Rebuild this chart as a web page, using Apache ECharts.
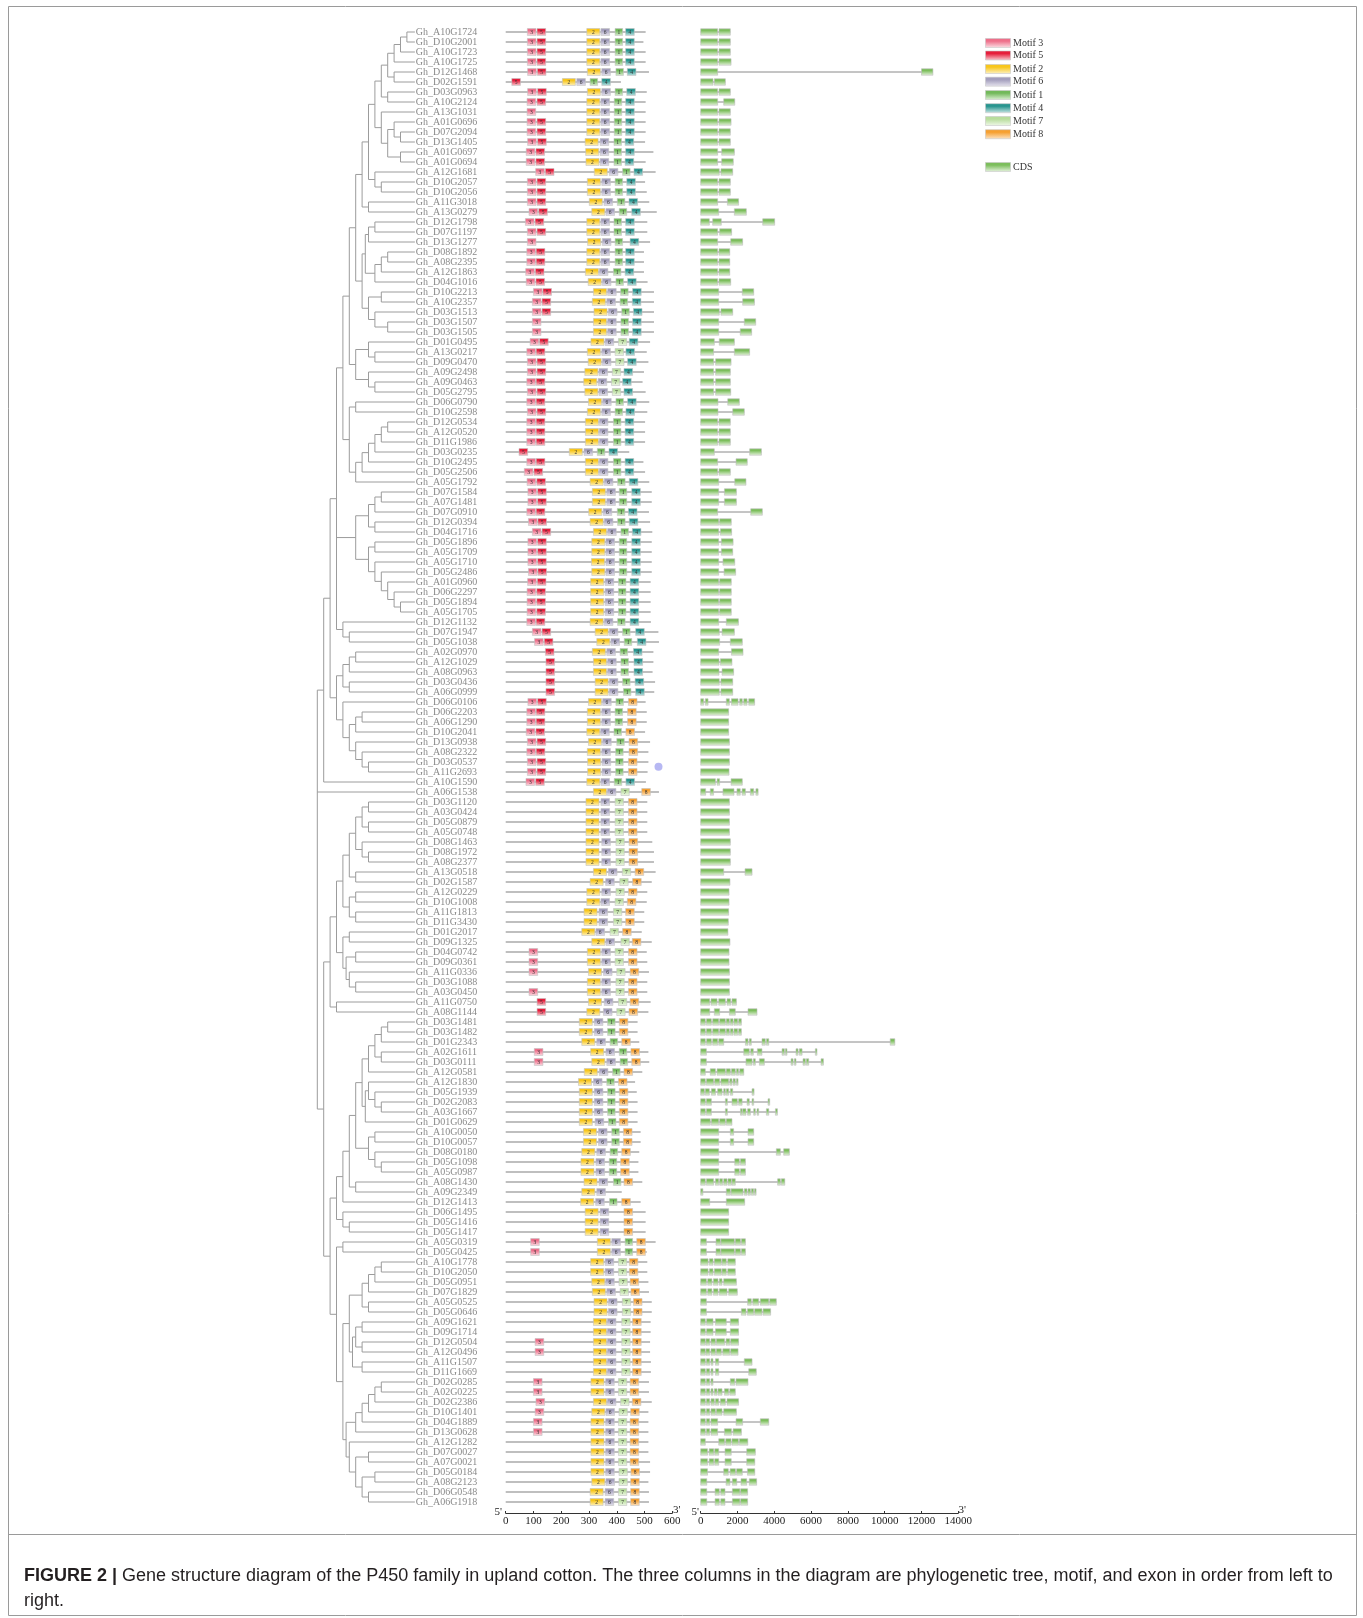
<!DOCTYPE html>
<html><head><meta charset="utf-8">
<script src="https://cdn.jsdelivr.net/npm/echarts@6/dist/echarts.min.js"></script>
<style>html,body{margin:0;padding:0;background:#fff}#c{width:1363px;height:1618px}</style>
</head><body><div id="c"></div>
<script>
// ---------------- DATA ----------------
const genes = ["Gh_A10G1724","Gh_D10G2001","Gh_A10G1723","Gh_A10G1725","Gh_D12G1468","Gh_D02G1591","Gh_D03G0963","Gh_A10G2124","Gh_A13G1031","Gh_A01G0696",
"Gh_D07G2094","Gh_D13G1405","Gh_A01G0697","Gh_A01G0694","Gh_A12G1681","Gh_D10G2057","Gh_D10G2056","Gh_A11G3018","Gh_A13G0279","Gh_D12G1798",
"Gh_D07G1197","Gh_D13G1277","Gh_D08G1892","Gh_A08G2395","Gh_A12G1863","Gh_D04G1016","Gh_D10G2213","Gh_A10G2357","Gh_D03G1513","Gh_D03G1507",
"Gh_D03G1505","Gh_D01G0495","Gh_A13G0217","Gh_D09G0470","Gh_A09G2498","Gh_A09G0463","Gh_D05G2795","Gh_D06G0790","Gh_D10G2598","Gh_D12G0534",
"Gh_A12G0520","Gh_D11G1986","Gh_D03G0235","Gh_D10G2495","Gh_D05G2506","Gh_A05G1792","Gh_D07G1584","Gh_A07G1481","Gh_D07G0910","Gh_D12G0394",
"Gh_D04G1716","Gh_D05G1896","Gh_A05G1709","Gh_A05G1710","Gh_D05G2486","Gh_A01G0960","Gh_D06G2297","Gh_D05G1894","Gh_A05G1705","Gh_D12G1132",
"Gh_D07G1947","Gh_D05G1038","Gh_A02G0970","Gh_A12G1029","Gh_A08G0963","Gh_D03G0436","Gh_A06G0999","Gh_D06G0106","Gh_D06G2203","Gh_A06G1290",
"Gh_D10G2041","Gh_D13G0938","Gh_A08G2322","Gh_D03G0537","Gh_A11G2693","Gh_A10G1590","Gh_A06G1538","Gh_D03G1120","Gh_A03G0424","Gh_D05G0879",
"Gh_A05G0748","Gh_D08G1463","Gh_D08G1972","Gh_A08G2377","Gh_A13G0518","Gh_D02G1587","Gh_A12G0229","Gh_D10G1008","Gh_A11G1813","Gh_D11G3430",
"Gh_D01G2017","Gh_D09G1325","Gh_D04G0742","Gh_D09G0361","Gh_A11G0336","Gh_D03G1088","Gh_A03G0450","Gh_A11G0750","Gh_A08G1144","Gh_D03G1481",
"Gh_D03G1482","Gh_D01G2343","Gh_A02G1611","Gh_D03G0111","Gh_A12G0581","Gh_A12G1830","Gh_D05G1939","Gh_D02G2083","Gh_A03G1667","Gh_D01G0629",
"Gh_A10G0050","Gh_D10G0057","Gh_D08G0180","Gh_D05G1098","Gh_A05G0987","Gh_A08G1430","Gh_A09G2349","Gh_D12G1413","Gh_D06G1495","Gh_D05G1416",
"Gh_D05G1417","Gh_A05G0319","Gh_D05G0425","Gh_A10G1778","Gh_D10G2050","Gh_D05G0951","Gh_D07G1829","Gh_A05G0525","Gh_D05G0646","Gh_A09G1621",
"Gh_D09G1714","Gh_D12G0504","Gh_A12G0496","Gh_A11G1507","Gh_D11G1669","Gh_D02G0285","Gh_A02G0225","Gh_D02G2386","Gh_D10G1401","Gh_D04G1889",
"Gh_D13G0628","Gh_A12G1282","Gh_D07G0027","Gh_A07G0021","Gh_D05G0184","Gh_A08G2123","Gh_D06G0548","Gh_A06G1918"];

// protein length (aa) per gene
const proteinLength = [504,496,504,504,516,415,508,504,504,504, 504,502,532,504,540,502,508,517,544,510,
510,520,498,498,498,511,534,534,534,534, 534,520,508,514,498,493,504,517,510,502,
502,502,445,496,502,517,526,526,516,520, 528,526,526,526,526,522,522,522,522,523,
550,552,532,532,529,538,535,504,508,508, 502,520,514,514,511,505,552,510,510,510,
510,528,534,534,540,526,510,508,499,499, 490,526,508,510,516,510,510,522,514,475,
475,481,514,517,492,466,472,475,475,475, 486,486,481,478,478,492,418,486,504,504,
504,540,508,510,510,514,516,526,526,522, 522,520,520,523,523,516,516,526,514,514,
514,514,514,520,520,514,516,516];

// motif id : start (aa)
const motifSites = [
"3:78 5:113 2:292 6:343 1:394 4:432","3:78 5:113 2:292 6:343 1:394 4:432","3:78 5:113 2:292 6:343 1:394 4:432","3:78 5:113 2:292 6:343 1:394 4:432",
"3:79 5:114 2:294 6:346 1:397 4:438","5:22 2:204 6:256 1:304 4:346","3:79 5:115 2:294 6:346 1:394 4:436","3:77 5:113 2:292 6:343 1:391 4:432",
"3:77 2:292 6:343 1:391 4:432","3:77 5:113 2:292 6:343 1:391 4:432","3:77 5:113 2:292 6:343 1:391 4:432","3:79 5:115 2:286 6:340 1:390 4:430",
"3:74 5:109 2:288 6:340 1:390 4:432","3:74 5:109 2:289 6:340 1:390 4:430","3:108 5:143 2:319 6:373 1:421 4:462","3:78 5:113 2:294 6:346 1:394 4:436",
"3:78 5:113 2:294 6:346 1:394 4:436","3:78 5:113 2:301 6:354 1:402 4:444","3:84 5:119 2:310 6:361 1:409 4:454","3:71 5:106 2:292 6:343 1:390 4:432",
"3:78 5:113 2:292 6:343 1:390 4:432","3:78 2:295 6:348 1:394 4:448","3:76 5:110 2:292 6:343 1:394 4:432","3:76 5:110 2:292 6:343 1:394 4:432",
"3:72 5:107 2:287 6:337 1:388 4:430","3:74 5:109 2:297 6:348 1:397 4:439","3:100 5:134 2:316 6:367 1:414 4:457","3:96 5:131 2:312 6:364 1:412 4:456",
"3:96 5:131 2:318 6:370 1:418 4:460","3:96 2:316 6:367 1:415 4:457","3:96 2:316 6:367 1:415 4:457","3:88 5:122 2:307 6:358 7:406 4:445",
"3:76 5:110 2:294 6:346 7:394 4:433","3:78 5:113 2:297 6:348 7:396 4:439","3:78 5:113 2:285 6:336 7:384 4:426","3:76 5:110 2:281 6:333 7:381 4:421",
"3:78 5:113 2:285 6:336 7:384 4:426","3:76 5:110 2:298 6:349 1:397 4:439","3:78 5:113 2:294 6:346 1:394 4:433","3:76 5:110 2:287 6:337 1:388 4:430",
"3:76 5:110 2:287 6:337 1:388 4:430","3:76 5:110 2:287 6:337 1:388 4:430","5:48 2:229 6:282 1:330 4:372","3:76 5:110 2:287 6:337 1:388 4:430",
"3:67 5:102 2:287 6:337 1:388 4:430","3:77 5:112 2:304 6:355 1:403 4:445","3:80 5:115 2:312 6:364 1:409 4:454","3:80 5:115 2:312 6:364 1:409 4:454",
"3:76 5:110 2:299 6:351 1:402 4:442","3:82 5:116 2:304 6:355 1:403 4:445","3:96 5:131 2:316 6:367 1:415 4:456","3:80 5:115 2:310 6:361 1:409 4:454",
"3:80 5:115 2:310 6:361 1:409 4:454","3:80 5:115 2:309 6:361 1:409 4:454","3:82 5:116 2:310 6:361 1:409 4:454","3:79 5:114 2:306 6:358 1:406 4:448",
"3:77 5:112 2:306 6:358 1:406 4:448","3:77 5:112 2:306 6:358 1:406 4:448","3:77 5:112 2:306 6:358 1:406 4:448","3:76 5:110 2:304 6:355 1:403 4:448",
"3:96 5:131 2:322 6:373 1:421 4:468","3:104 5:139 2:328 6:379 1:427 4:474","5:143 2:312 6:364 1:412 4:460","5:145 2:316 6:367 1:415 4:462",
"5:145 2:316 6:367 1:415 4:462","5:145 2:322 6:373 1:421 4:466","5:145 2:322 6:373 1:424 4:468","3:80 5:115 2:298 6:349 1:397 8:442",
"3:76 5:110 2:294 6:346 1:394 8:439","3:76 5:110 2:294 6:346 1:394 8:439","3:74 5:109 2:292 6:342 1:390 8:433","3:78 5:113 2:298 6:349 1:400 8:444",
"3:76 5:110 2:294 6:346 1:396 8:444","3:78 5:113 2:295 6:347 1:396 8:442","3:78 5:113 2:295 6:347 1:396 8:442","3:73 5:108 2:292 6:343 1:391 4:433",
"2:316 6:366 7:415 8:490","2:289 6:343 7:394 8:442","2:289 6:343 7:394 8:442","2:289 6:343 7:394 8:442",
"2:289 6:343 7:394 8:442","2:289 6:346 7:397 8:444","2:289 6:346 7:397 8:444","2:289 6:346 7:397 8:444",
"2:316 6:370 7:420 8:466","2:304 6:360 7:411 8:457","2:292 6:346 7:397 8:442","2:292 6:343 7:394 8:438",
"2:282 6:336 7:388 8:432","2:282 6:336 7:388 8:432","2:274 6:325 7:376 8:421","2:310 6:361 7:415 8:456",
"3:84 2:294 6:346 7:394 8:442","3:84 2:294 6:346 7:394 8:442","3:84 2:298 6:352 7:400 8:448","2:294 6:346 7:397 8:442",
"3:84 2:294 6:346 7:397 8:442","5:113 2:298 6:355 7:406 8:448","5:113 2:292 6:352 7:400 8:444","2:265 6:319 1:367 8:409",
"2:265 6:319 1:367 8:409","2:274 6:328 1:376 8:418","3:103 2:306 6:361 1:409 8:451","3:103 2:310 6:364 1:412 8:454",
"2:283 6:337 1:385 8:426","2:262 6:316 1:364 8:406","2:265 6:319 1:367 8:409","2:265 6:319 1:367 8:409",
"2:265 6:319 1:367 8:409","2:265 6:322 1:370 8:409","2:280 6:334 1:382 8:424","2:280 6:334 1:382 8:424",
"2:274 6:328 1:376 8:418","2:271 6:325 1:373 8:414","2:271 6:325 1:373 8:414","2:282 6:336 1:388 8:426",
"2:274 6:328","2:270 6:324 1:374 8:418","2:286 6:340 8:426","2:286 6:340 8:426",
"2:286 6:340 8:426","3:90 2:330 6:382 1:430 8:472","3:90 2:330 6:382 1:430 8:472","2:306 6:358 7:406 8:445",
"2:306 6:358 7:406 8:445","2:310 6:360 7:408 8:448","2:312 6:364 7:412 8:451","2:318 6:370 7:420 8:460",
"2:318 6:370 7:420 8:460","2:316 6:366 7:418 8:457","2:316 6:366 7:418 8:457","3:106 2:316 6:366 7:418 8:457",
"3:106 2:316 6:366 7:418 8:457","2:316 6:366 7:418 8:457","2:316 6:366 7:418 8:457","3:100 2:307 6:360 7:406 8:448",
"3:100 2:307 6:360 7:406 8:448","3:109 2:316 6:366 7:414 8:456","3:106 2:310 6:361 7:408 8:450","3:100 2:307 6:360 7:406 8:448",
"3:100 2:307 6:360 7:406 8:448","2:307 6:360 7:406 8:448","2:307 6:360 7:406 8:448","2:307 6:360 7:406 8:448",
"2:307 6:360 7:408 8:451","2:310 6:361 7:408 8:450","2:304 6:358 7:406 8:450","2:304 6:358 7:406 8:450"];

// motif length (aa)
const motifLength = {3:31, 5:31, 2:47, 6:31, 1:27, 4:31, 7:30, 8:31};

// CDS segments (bp) per gene
const exons = [
"0-920 995-1610","0-920 995-1610","0-920 995-1610","0-920 995-1650","0-920 12000-12620","0-670 740-1340","0-920 995-1610","0-920 1250-1850","0-920 995-1610","0-920 995-1650",
"0-920 995-1610","0-920 995-1610","0-920 1140-1830","0-920 1140-1770","0-1010 1100-1740","0-920 995-1610","0-920 995-1610","0-920 1450-2060","0-980 1830-2480","0-470 650-1120 3370-4020",
"0-920 1030-1680","0-920 1630-2280","0-920 995-1580","0-920 995-1580","0-920 995-1580","0-920 995-1630","0-980 2260-2880","0-980 2280-2920","0-1010 1100-1740","0-980 2370-2990",
"0-980 2150-2770","0-740 1010-1830","0-700 1830-2660","0-700 810-1650","0-700 810-1610","0-700 810-1610","0-700 810-1630","0-940 1470-2100","0-940 1740-2370","0-920 995-1610",
"0-920 995-1610","0-920 995-1610","0-740 2660-3300","0-920 1920-2530","0-920 995-1610","0-980 1850-2460","0-980 1290-1940","0-980 1290-1940","0-920 2720-3350","0-980 1030-1660",
"0-980 1070-1680","0-980 1120-1760","0-980 1120-1740","0-980 1210-1850","0-980 1270-1900","0-980 1030-1660","0-980 1030-1660","0-980 1030-1660","0-980 1030-1660","0-980 1390-2050",
"0-1010 1160-1830","0-1030 1610-2260","0-980 1670-2300","0-995 1070-1700","0-995 1160-1790","0-1010 1100-1740","0-1010 1100-1740","0-160 250-400 1390-1560 1670-2030 2120-2260 2340-2520 2610-2930","0-1520","0-1520",
"0-1520","0-1560","0-1560","0-1560","0-1540","0-800 890-1030 1650-2260","0-270 520-700 1210-1810 1970-2150 2250-2430 2700-2880 3000-3120","0-1560","0-1560","0-1560",
"0-1560","0-1610","0-1610","0-1610","0-1250 2410-2790","0-1590","0-1540","0-1540","0-1520","0-1500",
"0-1480","0-1590","0-1540","0-1540","0-1560","0-1560","0-1560","0-490 560-890 980-1340 1430-1630 1700-1940","0-490 740-1030 1560-1880 2570-3060","0-250 310-580 650-980 1030-1340 1390-1560 1610-1760 1810-2010 2060-2210",
"0-250 310-580 650-980 1030-1340 1390-1560 1610-1760 1810-2010 2060-2210","0-250 320-580 650-920 980-1250 2430-2570 2640-2750 3330-3510 3570-3700 10300-10550","0-310 2340-2640 2720-2860 3080-3330 4420-4550 4600-4690 5180-5290 5360-5510 6230-6320","0-310 2460-2790 2860-2970 3190-3460 4910-5020 5090-5180 5560-5690 5740-5870 6540-6670","0-250 520-800 890-1340 1390-1610 1670-1880 1940-2060 2120-2340","0-250 310-700 760-1030 1100-1520 1580-1700 1760-1880 1940-2030","0-200 250-470 580-800 920-1160 1250-1340 1390-1520 1610-1740 2790-2900","0-250 310-580 1340-1450 1700-1990 2060-2250 2520-2640 2790-2880 3660-3750","0-250 310-580 1340-1450 2160-2250 2280-2460 2550-2700 2880-2970 3060-3150 3570-3700 4060-4170","0-520 580-980 1030-1340 1390-1700",
"0-980 1610-1790 2570-2880","0-980 1610-1790 2570-2880","0-980 4110-4330 4510-4820","0-980 1850-2100 2160-2430","0-980 1850-2100 2160-2430","0-250 310-700 800-980 1030-1190 1250-1430 1480-1670 1700-1880 4180-4330 4380-4570","0-120 1390-1610 1650-2300 2370-2520 2570-2700 2750-2880 2920-3010","0-490 1390-2390","0-1520","0-1520",
"0-1520","0-310 830-1070 1100-1830 1880-2160 2210-2430","0-310 830-1070 1100-1830 1880-2160 2210-2430","0-400 470-670 740-1120 1160-1390 1470-1880","0-400 470-670 740-1120 1160-1390 1470-1880","0-310 380-610 690-940 1010-1160 1250-1940","0-310 380-610 690-940 1010-1430 1520-1990","0-310 2550-2750 2830-3150 3240-3700 3750-4110","0-310 2210-2460 2540-2880 2930-3330 3390-3800","0-250 320-670 800-1390 1610-2060",
"0-250 320-670 800-1390 1610-2060","0-250 290-490 560-800 850-1300 1380-1580 1630-2060","0-250 290-490 560-800 850-1120 1200-1580 1630-2030","0-250 310-490 560-670 800-980 2370-2790","0-250 310-490 560-670 800-980 2610-3020","0-250 310-490 560-670 1610-1850 1920-2570","0-250 310-490 560-670 740-890 940-1160 1290-1520 1580-1880","0-250 310-490 560-740 800-980 1070-1340 1430-2060","0-250 310-490 560-800 850-1160 1250-1940","0-250 310-490 560-920 1920-2280 3240-3700",
"0-250 310-490 560-920 1290-1670 1760-2210","0-250 980-1300 1360-1650 1700-2050 2100-2560","0-370 460-710 760-980 1320-1660 2500-2970","0-370 460-710 760-980 1320-1660 2500-2940","0-370 1250-1500 1600-1890 1950-2260 2540-2940","0-330 1380-1590 1720-1960 2190-2500 2640-3040","0-330 780-1010 1090-1320 1720-2130 2170-2550","0-330 780-1010 1090-1320 1720-2130 2170-2550"];

// phylogenetic tree: leaves = row numbers, number after ')' = node depth (0 = root)
const cladeA1 = "(((((1,2)14,3)13,4)12,(5,6)12)11,(7,8)11)10";
const cladeA2 = "(9,((10,(11,12)13)12,(13,14)13)11)10";
const cladeD  = "(((20,21)9,22)8,(((23,24)11,25)10,26)9)7.5";
const cladeF  = "((27,28)10,(29,(30,31)11)9)8";
const cladeH  = "((32,(33,34)9)8,(35,(36,37)9)8)6";
const cladeK  = "((((((40,41)11,42)10,43)9,44)8,45)7,46)6";
const cladeL1 = "(((47,48)10,49)9,(50,51)9)8";
const cladeL2 = "((52,53)9,(54,(55,(56,(57,(58,59)13)12)11)10)9)8";
const cladeM  = "(60,(61,62)5)4";
const cladeO  = "(((63,64)6,65)5,(66,67)5)4";
const cladeP  = "(68,(((69,70)7,71)6,(72,(73,(74,75)8)7)6)5)4";
const cladeB1 = "((((78,79)8,(80,81)8)7,(82,(83,84)8)7)6,(85,86)6)5";
const cladeB2 = "((87,88)6,(89,90)6)5";
const cladeB3 = "((91,92)5,((93,94)6,(95,(96,97)6)5)4.5)4";
const cladeG1 = "(((100,101)11,102)10,(103,104)10)9";
const cladeG2 = "((106,(107,(108,109)10)9)8,110)7.5";
const cladeG3 = "((111,112)9,(113,(114,115)10)9)8";
const cladeH1 = "((((124,125)10,126)9,127)8,(128,129)8)7";
const cladeH2 = "(((130,131)7,(132,133)7)6,(134,135)7)5.5";
const cladeI1 = "(((((136,137)10,138)9,139)8,140)7,141)6";
const cladeI2 = "(142,((143,144)8,((145,146)9,(147,148)8)7)6)5";

const legendMotifs = [3,5,2,6,1,4,7,8];
const motifTicks = {min:0, max:600, step:100};
const exonTicks = {min:0, max:14000, step:2000};
const captionText = "Gene structure diagram of the P450 family in upland cotton. The three columns in the diagram are phylogenetic tree, motif, and exon in order from left to\nright.";

// ---------------- BUILD ----------------
const topTree = "((((((((" + cladeA1 + "," + cladeA2 + ")9,(15,(16,17)10)9)8,(18,19)8)7,(" + cladeD + "," + cladeF + ")7)6," + cladeH + ")5,((38,39)6," + cladeK + ")5)4,(" + cladeL1 + "," + cladeL2 + ")6," + cladeM + ")3,(" + cladeO + "," + cladeP + ")3)2";
const topClade = "(" + topTree + ",76)1";
const bbTop = "(((" + cladeB1 + "," + cladeB2 + ")4," + cladeB3 + ")3,(98,99)3)2";
const gUp = "((((((" + cladeG1 + ",105)8," + cladeG2 + ")7," + cladeG3 + ")6,(116,117)6)5,118)4,(119,(120,121)5)4)3";
const kClade = "((122,123)4,((" + cladeH1 + "," + cladeH2 + ")5,(" + cladeI1 + "," + cladeI2 + ")4.5)4)3";
const botClade = "(" + bbTop + ",(" + gUp + "," + kClade + ")2)1";
const newick = "(" + topClade + ",77," + botClade + ")0";

const LEAF_DEPTH = 15.25;
function parseTree(str){
  const s = str.replace(/\s+/g,''); let i = 0;
  const num = () => { const j = i; while (i < s.length && /[0-9.]/.test(s[i])) i++; return parseFloat(s.slice(j, i)); };
  const node = () => {
    if (s[i] === '(') {
      i++; const children = [node()];
      while (s[i] === ',') { i++; children.push(node()); }
      i++; return {children, depth: num()};
    }
    return {leaf: num() - 1, depth: LEAF_DEPTH};
  };
  return node();
}
const root = parseTree(newick);
function setY(n){ if (n.children){ n.children.forEach(setY); n.y = (n.children[0].y + n.children[n.children.length-1].y)/2; } else n.y = n.leaf; }
setY(root);
const treeSegs = [];
(function walk(n, pd){
  if (pd != null) treeSegs.push([pd, n.y, n.depth, n.y]);
  if (n.children){
    treeSegs.push([n.depth, n.children[0].y, n.depth, n.children[n.children.length-1].y]);
    n.children.forEach(c => walk(c, n.depth));
  }
})(root, null);

const motifData = [];
motifSites.forEach((s, gi) => s.split(' ').forEach(t => { const [m, st] = t.split(':').map(Number); motifData.push([gi, st, st + motifLength[m], m]); }));
const backboneData = proteinLength.map((L, gi) => [gi, 0, L]);
const exonData = [], intronData = [];
exons.forEach((s, gi) => {
  const segs = s.split(' ').map(p => p.split('-').map(Number));
  segs.forEach(p => exonData.push([gi, p[0], p[1]]));
  intronData.push([gi, segs[0][0], segs[segs.length-1][1]]);
});

// ---------------- STYLE ----------------
const motifColors = {
  3:['#ee6f8a','#fbe0e6'], 5:['#e61e3c','#f8cdd3'], 2:['#f8c61c','#fdf2c4'], 6:['#a49fbd','#e8e6ef'],
  1:['#72b95a','#ddefd5'], 4:['#27958f','#c8e5e3'], 7:['#b8dd9c','#f0f8e9'], 8:['#f6a031','#fde4c4'], cds:['#7cbe5c','#e7f3e0']
};
const grad = {};
Object.keys(motifColors).forEach(k => {
  const c = motifColors[k];
  grad[k] = new echarts.graphic.LinearGradient(0,0,0,1,[{offset:0,color:c[0]},{offset:0.3,color:c[0]},{offset:1,color:c[1]}]);
});
const SERIF = "'Liberation Serif','DejaVu Serif',serif";
const SANS = "'Liberation Sans',Arial,sans-serif";
const GRID_TOP = 27, GRID_H = 1480, N = genes.length;

function renderTree(p, api){
  const a = api.coord([api.value(0), api.value(1)]), b = api.coord([api.value(2), api.value(3)]);
  return {type:'line', shape:{x1:a[0], y1:a[1], x2:b[0], y2:b[1]}, style:{stroke:'#9c9c9c', lineWidth:1}};
}
function renderBar(color, width){
  return function(p, api){
    const a = api.coord([api.value(1), api.value(0)]), b = api.coord([api.value(2), api.value(0)]);
    return {type:'line', shape:{x1:a[0], y1:a[1], x2:b[0], y2:b[1]}, style:{stroke:color, lineWidth:width}};
  };
}
function renderMotif(p, api){
  const gi = api.value(0), m = api.value(3);
  const a = api.coord([api.value(1), gi]), b = api.coord([api.value(2), gi]);
  const h = 7;
  return {type:'group', children:[
    {type:'rect', shape:{x:a[0], y:a[1]-h/2, width:b[0]-a[0], height:h}, style:{fill:grad[m], stroke:'#c2c2c2', lineWidth:0.6}},
    {type:'text', style:{text:String(m), x:(a[0]+b[0])/2, y:a[1]+0.5, align:'center', verticalAlign:'middle', fontSize:5.5, fontFamily:SERIF, fill:'#333'}}
  ]};
}
function renderExon(p, api){
  const gi = api.value(0);
  const a = api.coord([api.value(1), gi]), b = api.coord([api.value(2), gi]);
  const h = 6.5;
  return {type:'rect', shape:{x:a[0], y:a[1]-h/2, width:Math.max(1.5, b[0]-a[0]), height:h}, style:{fill:grad.cds, stroke:'#bdbdbd', lineWidth:0.6}};
}

const axisBase = (gridIndex, t) => ({
  type:'value', gridIndex, min:t.min, max:t.max, interval:t.step, offset:6, position:'bottom',
  axisLine:{show:true, onZero:false, lineStyle:{color:'#333', width:1}},
  axisTick:{show:true, inside:true, length:2, lineStyle:{color:'#333'}},
  axisLabel:{margin:3, fontFamily:SERIF, fontSize:11, color:'#222', formatter:v => String(v)},
  splitLine:{show:false}
});

// legend graphics
const legendY = [43, 55.5, 69, 81.7, 95, 108.2, 121, 134.2];
const graphics = [
  {type:'rect', shape:{x:8.5, y:6.5, width:1348, height:1609}, style:{fill:'none', stroke:'#9a9a9a', lineWidth:1}},
  {type:'line', shape:{x1:8.5, y1:1534.5, x2:1356.5, y2:1534.5}, style:{stroke:'#9a9a9a', lineWidth:1}},
  {type:'circle', shape:{cx:658.5, cy:766.8, r:4}, style:{fill:'#b7b8f3'}},
  {type:'text', style:{text:"5'", x:502, y:1512, align:'right', verticalAlign:'middle', font:"11px "+SERIF, fill:'#222'}},
  {type:'text', style:{text:"3'", x:673, y:1510, align:'left', verticalAlign:'middle', font:"11px "+SERIF, fill:'#222'}},
  {type:'text', style:{text:"5'", x:699, y:1512, align:'right', verticalAlign:'middle', font:"11px "+SERIF, fill:'#222'}},
  {type:'text', style:{text:"3'", x:958.5, y:1510, align:'left', verticalAlign:'middle', font:"11px "+SERIF, fill:'#222'}},
  {type:'text', left:24, top:1564, style:{text:'{b|FIGURE 2 |} ' + captionText, font:"18px "+SANS, fill:'#231f20', lineHeight:25,
     rich:{b:{fontWeight:'bold', fontSize:18, fontFamily:SANS, fill:'#231f20'}}}}
];
legendMotifs.forEach((m, k) => {
  graphics.push({type:'rect', shape:{x:985.5, y:legendY[k]-4.5, width:25, height:9}, style:{fill:grad[m], stroke:'#c8c8c8', lineWidth:0.6}});
  graphics.push({type:'text', style:{text:'Motif ' + m, x:1013, y:legendY[k], verticalAlign:'middle', font:"10px "+SERIF, fill:'#333'}});
});
graphics.push({type:'rect', shape:{x:985.5, y:162.5, width:25, height:9}, style:{fill:grad.cds, stroke:'#c8c8c8', lineWidth:0.6}});
graphics.push({type:'text', style:{text:'CDS', x:1013, y:167, verticalAlign:'middle', font:"10px "+SERIF, fill:'#333'}});

const chart = echarts.init(document.getElementById('c'), null, {renderer:'canvas'});
chart.setOption({
  animation:false,
  backgroundColor:'#fff',
  grid:[
    {left:317.3, width:97.6, top:GRID_TOP, height:GRID_H},
    {left:505.7, width:166.6, top:GRID_TOP, height:GRID_H},
    {left:700.7, width:257.6, top:GRID_TOP, height:GRID_H}
  ],
  xAxis:[
    {type:'value', gridIndex:0, min:0, max:LEAF_DEPTH, show:false},
    axisBase(1, motifTicks),
    axisBase(2, exonTicks)
  ],
  yAxis:[
    {type:'value', gridIndex:0, min:-0.5, max:N-0.5, inverse:true, show:false},
    {type:'category', gridIndex:1, data:genes, inverse:true, axisLine:{show:false}, axisTick:{show:false}, splitLine:{show:false},
     axisLabel:{interval:0, align:'left', margin:90, fontFamily:SERIF, fontSize:10, color:'#8a8a8a'}},
    {type:'value', gridIndex:2, min:-0.5, max:N-0.5, inverse:true, show:false}
  ],
  series:[
    {type:'custom', xAxisIndex:0, yAxisIndex:0, data:treeSegs, encode:{x:[0,2], y:[1,3]}, renderItem:renderTree, silent:true},
    {type:'custom', xAxisIndex:1, yAxisIndex:1, data:backboneData, encode:{x:[1,2], y:0}, renderItem:renderBar('#808080',1.2), silent:true},
    {type:'custom', xAxisIndex:1, yAxisIndex:1, data:motifData, encode:{x:[1,2], y:0}, renderItem:renderMotif, silent:true},
    {type:'custom', xAxisIndex:2, yAxisIndex:2, data:intronData, encode:{x:[1,2], y:0}, renderItem:renderBar('#8a8a8a',1), silent:true},
    {type:'custom', xAxisIndex:2, yAxisIndex:2, data:exonData, encode:{x:[1,2], y:0}, renderItem:renderExon, silent:true}
  ],
  graphic:graphics
});
</script>
</body></html>
